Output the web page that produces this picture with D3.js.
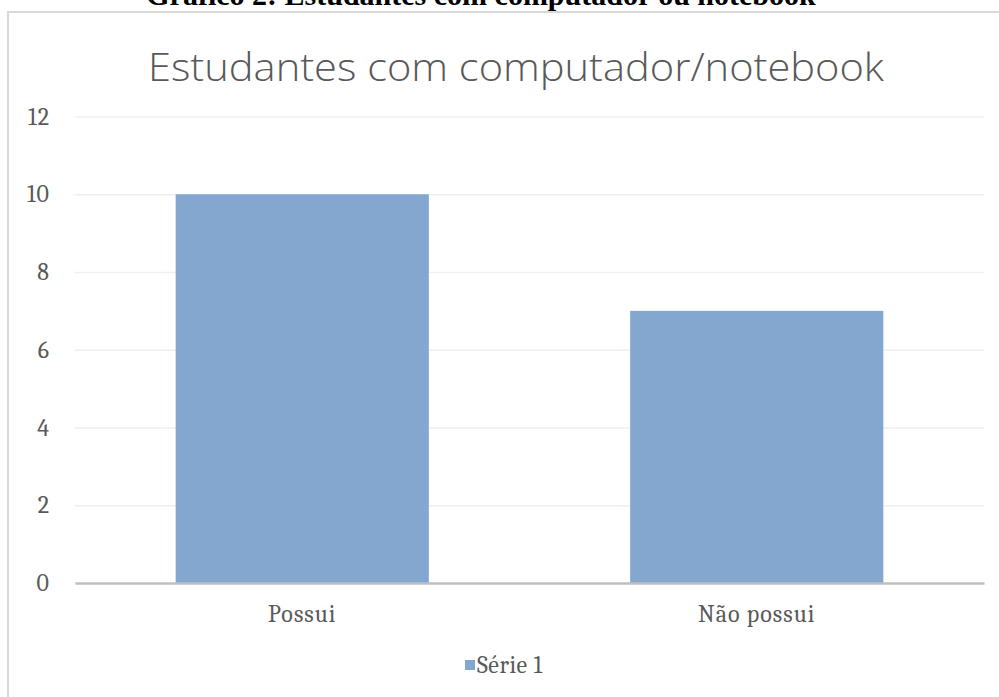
<!DOCTYPE html>
<html>
<head>
<meta charset="utf-8">
<script src="https://cdn.jsdelivr.net/npm/d3@7/dist/d3.min.js"></script>
<style>
  html, body { margin: 0; padding: 0; background: #fff; }
  svg { display: block; }
</style>
</head>
<body>
<script>
// Data
const categories = ["Possui", "Não possui"]
const values = [10, 7]
const yTicks = [0, 2, 4, 6, 8, 10, 12]
const seriesName = "Série 1"
const caption = "Gráfico 2: Estudantes com computador ou notebook"
const title = "Estudantes com computador/notebook"

// Layout
const width = 999, height = 697
const plot = { left: 75, right: 984, top: 116.5, bottom: 583 }
const barColor = "#84a7d0"
const textColor = "#595959"
const serif = "Cambria, Caladea, 'DejaVu Serif', serif"

const svg = d3.select("body").append("svg")
  .attr("width", width)
  .attr("height", height)

// Caption above the frame (cut at the top edge, as in the source page)
svg.append("text")
  .attr("x", 481)
  .attr("y", 5)
  .attr("text-anchor", "middle")
  .attr("font-family", "'Liberation Serif', 'Times New Roman', serif")
  .attr("font-weight", "bold")
  .attr("font-size", "30px")
  .attr("fill", "#000")
  .text(caption)

// Chart frame
svg.append("rect")
  .attr("x", 8)
  .attr("y", 12)
  .attr("width", 1100)
  .attr("height", 800)
  .attr("fill", "#fff")
  .attr("stroke", "#d9d9d9")
  .attr("stroke-width", 2)

// Title
svg.append("text")
  .attr("x", 516)
  .attr("y", 81)
  .attr("text-anchor", "middle")
  .attr("font-family", "'Open Sans', sans-serif")
  .attr("font-weight", 300)
  .attr("font-size", "38px")
  .attr("fill", textColor)
  .attr("textLength", 736)
  .attr("lengthAdjust", "spacingAndGlyphs")
  .text(title)

// Scales
const x = d3.scaleBand()
  .domain(categories)
  .range([plot.left, plot.right])
  .paddingInner(0.443)
  .paddingOuter(0.2215)

const y = d3.scaleLinear()
  .domain([0, 12])
  .range([plot.bottom, plot.top])

// Y axis with gridlines
svg.append("g")
  .attr("transform", `translate(${plot.left},0)`)
  .call(d3.axisLeft(y).tickValues(yTicks).tickSize(-(plot.right - plot.left)).tickPadding(25))
  .call(g => g.select(".domain").remove())
  .call(g => g.selectAll(".tick line").attr("stroke", "#efefef").attr("stroke-width", 1.5))
  .call(g => g.selectAll(".tick text")
    .attr("fill", textColor)
    .attr("font-family", serif)
    .attr("font-size", "24px")
    .attr("letter-spacing", "1px"))

// Bars
svg.append("g")
  .selectAll("rect")
  .data(values)
  .join("rect")
  .attr("x", (d, i) => x(categories[i]))
  .attr("y", d => y(d))
  .attr("width", x.bandwidth())
  .attr("height", d => y(0) - y(d))
  .attr("fill", barColor)

// X axis
svg.append("g")
  .attr("transform", `translate(0,${plot.bottom})`)
  .call(d3.axisBottom(x).tickSize(0).tickPadding(22))
  .call(g => g.select(".domain").attr("stroke", "#bfbfbf").attr("stroke-width", 2.5))
  .call(g => g.selectAll(".tick text")
    .attr("fill", textColor)
    .attr("font-family", serif)
    .attr("font-size", "24px")
    .attr("letter-spacing", "1px"))

// Legend
const legend = svg.append("g").attr("transform", "translate(465,665)")
legend.append("rect")
  .attr("x", 0)
  .attr("y", -5)
  .attr("width", 10)
  .attr("height", 10)
  .attr("fill", barColor)
legend.append("text")
  .attr("x", 12)
  .attr("y", 0)
  .attr("dy", "0.35em")
  .attr("fill", textColor)
  .attr("font-family", serif)
  .attr("font-size", "24px")
  .attr("letter-spacing", "0.5px")
  .text(seriesName)
</script>
</body>
</html>
